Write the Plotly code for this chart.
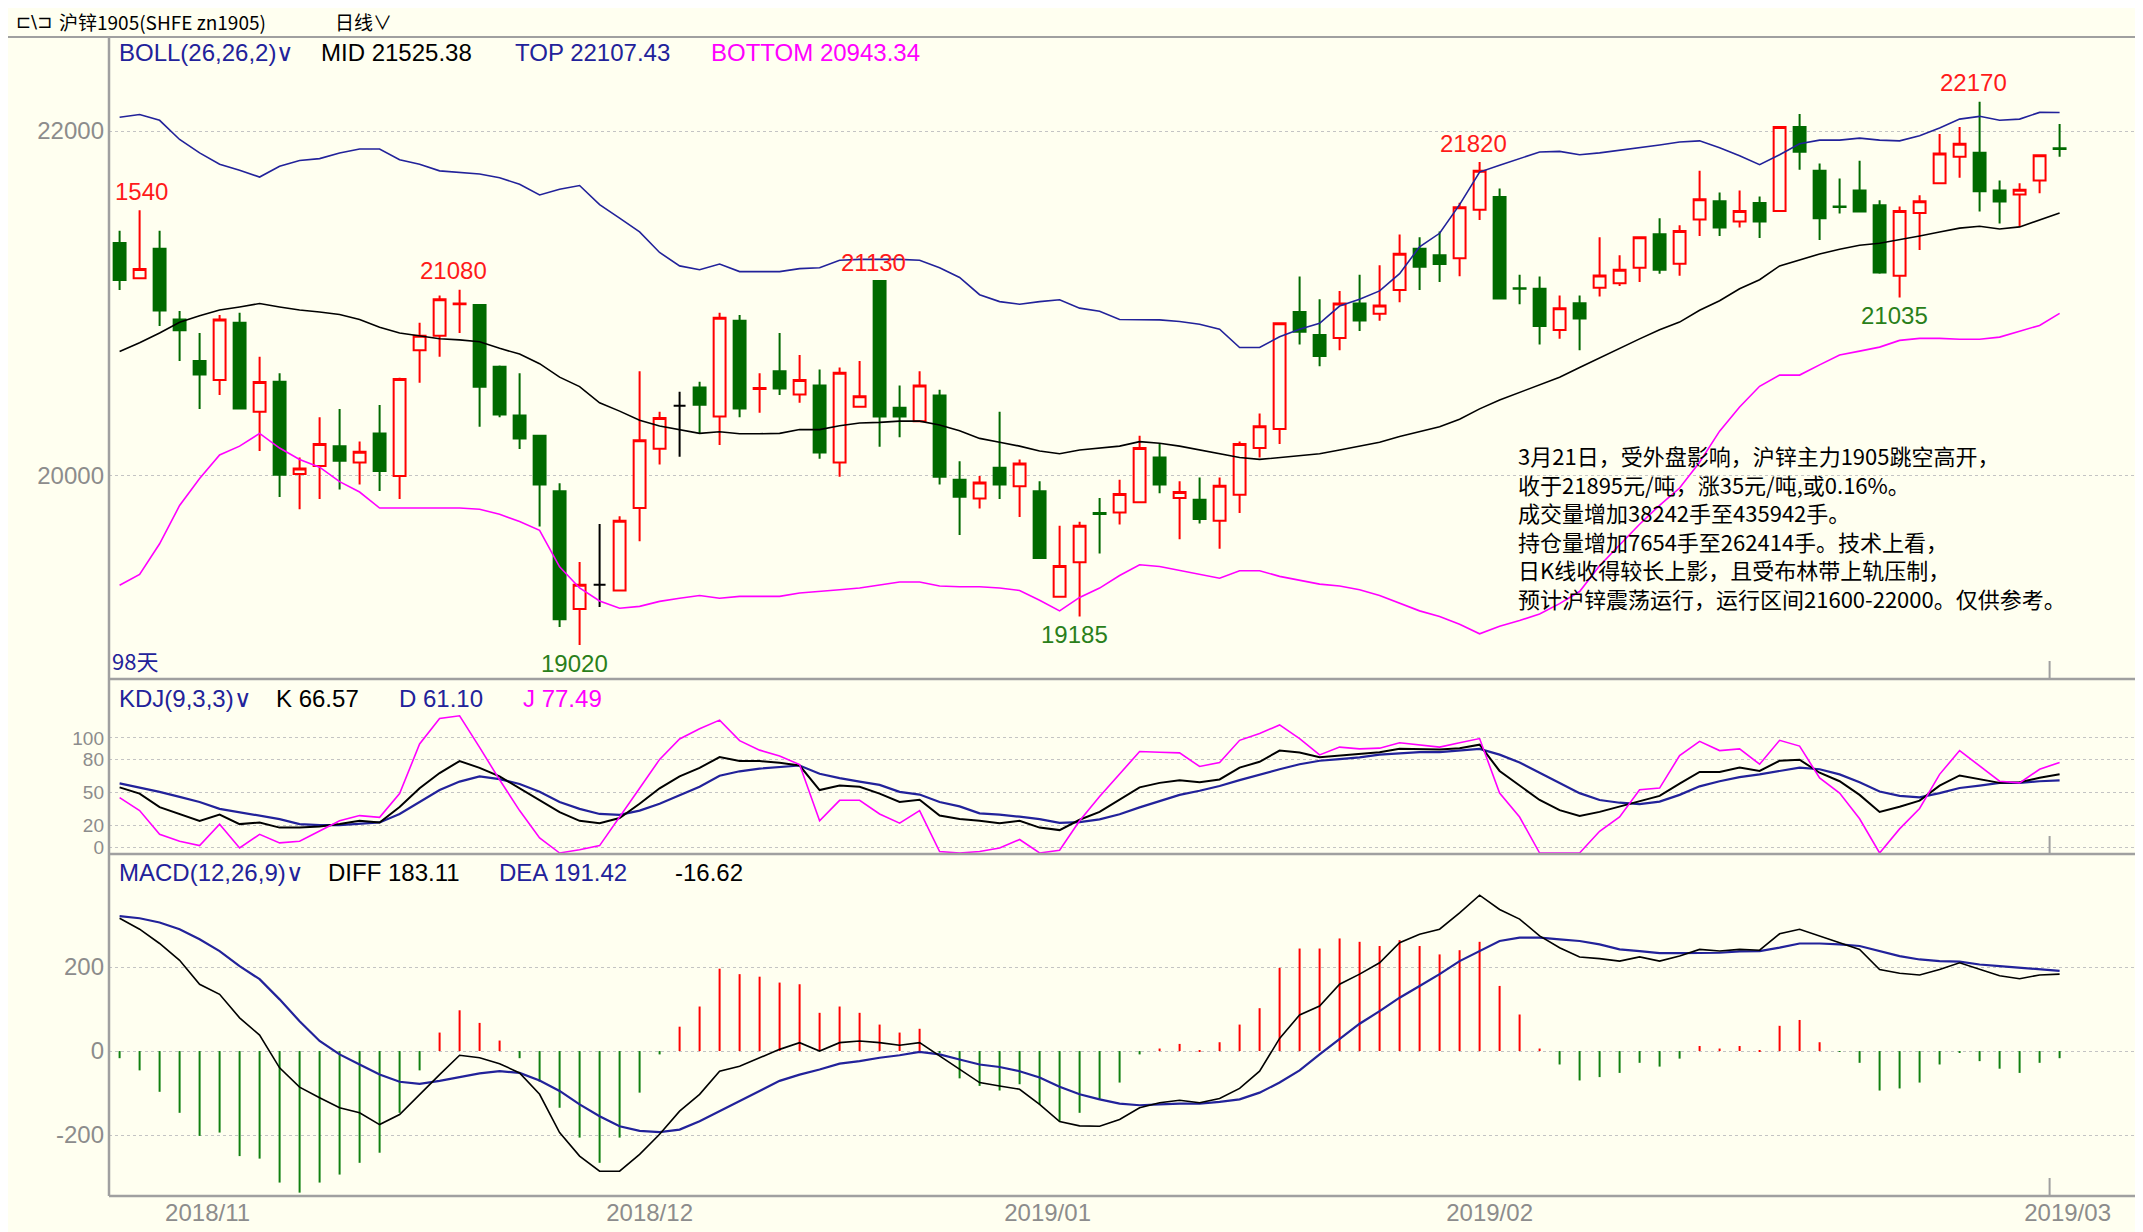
import plotly.graph_objects as go

# ---------------- data ----------------
idx = list(range(98))

opens = [21351, 21147, 21318, 20907, 20667, 20556, 20889, 20373, 20547, 20011,
         20058, 20173, 20078, 20247, 20000, 20729, 20813, 20995, 20991, 20633,
         20351, 20233, 19911, 19229, 19370, 19336, 19814, 20158, 20407, 20513,
         20345, 20900, 20505, 20607, 20473, 20524, 20078, 20402, 21130, 20396,
         20318, 20467, 19978, 19869, 20047, 19940, 19911, 19300, 19500, 19785,
         19789, 19847, 20107, 19873, 19862, 19740, 19891, 20162, 20273, 20951,
         20818, 20800, 21000, 20940, 21078, 21318, 21280, 21262, 21544, 21618,
         21089, 21085, 20847, 21002, 21091, 21118, 21207, 21402, 21230, 21487,
         21593, 21476, 21582, 21536, 22023, 21770, 21563, 21655, 21570, 21161,
         21524, 21697, 21851, 21874, 21655, 21632, 21713, 21900]
highs = [21422, 21540, 21422, 20956, 20829, 20933, 20947, 20691, 20596, 20107,
         20340, 20389, 20200, 20411, 20569, 20889, 21047, 21080, 20995, 20640,
         20596, 20233, 19958, 19502, 19722, 19767, 20607, 20373, 20489, 20547,
         20947, 20933, 20596, 20829, 20702, 20618, 20629, 20667, 21130, 20524,
         20607, 20500, 20085, 20000, 20373, 20096, 19969, 19711, 19734, 19873,
         19978, 20233, 20185, 19969, 19991, 19991, 20200, 20362, 20885, 21156,
         21024, 21073, 21167, 21222, 21400, 21384, 21418, 21584, 21820, 21667,
         21167, 21156, 21047, 21047, 21384, 21280, 21384, 21494, 21453, 21770,
         21644, 21655, 21621, 22023, 22099, 21811, 21724, 21828, 21598, 21563,
         21628, 21982, 22023, 22170, 21713, 21697, 21862, 22041]
lows = [21078, 21147, 20869, 20667, 20389, 20469, 20391, 20145, 19878, 19807,
        19867, 19922, 19951, 19913, 19867, 20540, 20691, 20829, 20285, 20340,
        20156, 19707, 19125, 19020, 19240, 19336, 19622, 20067, 20111, 20247,
        20180, 20340, 20367, 20469, 20424, 20100, 19996, 20402, 20169, 20224,
        20318, 19951, 19658, 19811, 19867, 19762, 19518, 19300, 19185, 19551,
        19718, 19847, 19900, 19633, 19725, 19578, 19785, 20107, 20185, 20762,
        20636, 20729, 20840, 20900, 21007, 21078, 21124, 21158, 21484, 21029,
        20996, 20762, 20796, 20729, 21040, 21102, 21124, 21172, 21161, 21391,
        21391, 21441, 21379, 21536, 21775, 21368, 21522, 21533, 21172, 21035,
        21310, 21697, 21729, 21533, 21464, 21448, 21639, 21851]
closes = [21136, 21200, 20960, 20845, 20589, 20907, 20391, 20545, 20007, 20044,
          20185, 20089, 20140, 20029, 20562, 20813, 21024, 21000, 20518, 20356,
          20218, 19951, 19169, 19369, 19370, 19740, 20207, 20336, 20407, 20413,
          20918, 20391, 20510, 20507, 20556, 20136, 20598, 20462, 20345, 20345,
          20524, 19996, 19880, 19962, 19951, 20073, 19525, 19478, 19711, 19780,
          19896, 20162, 19951, 19907, 19751, 19944, 20185, 20289, 20885, 20836,
          20696, 21000, 20902, 20989, 21289, 21213, 21229, 21558, 21769, 21029,
          21085, 20869, 20973, 20913, 21162, 21196, 21384, 21195, 21421, 21605,
          21441, 21536, 21476, 22023, 21880, 21494, 21560, 21533, 21179, 21536,
          21593, 21869, 21926, 21651, 21591, 21660, 21860, 21895]

boll_top = [22080, 22096, 22062, 21951, 21873, 21807, 21773, 21733, 21796, 21829,
            21840, 21873, 21896, 21896, 21833, 21807, 21769, 21762, 21751, 21729,
            21691, 21629, 21662, 21684, 21573, 21495, 21415, 21296, 21218, 21196,
            21229, 21185, 21185, 21185, 21202, 21207, 21251, 21256, 21256, 21256,
            21251, 21207, 21151, 21051, 21011, 20996, 21011, 21022, 20973, 20955,
            20907, 20907, 20905, 20896, 20880, 20851, 20745, 20745, 20807, 20851,
            20885, 20985, 21025, 21073, 21173, 21329, 21407, 21573, 21762, 21802,
            21840, 21878, 21882, 21862, 21873, 21887, 21905, 21919, 21936, 21943,
            21903, 21857, 21805, 21862, 21926, 21947, 21947, 21959, 21947, 21943,
            21972, 22018, 22069, 22085, 22062, 22069, 22108, 22107]
boll_mid = [20722, 20773, 20829, 20891, 20929, 20962, 20980, 21000, 20980, 20962,
            20951, 20936, 20907, 20862, 20829, 20811, 20796, 20789, 20778, 20740,
            20707, 20651, 20573, 20518, 20424, 20376, 20323, 20290, 20269, 20247,
            20256, 20245, 20245, 20247, 20269, 20269, 20291, 20307, 20311, 20318,
            20318, 20296, 20262, 20218, 20196, 20173, 20145, 20129, 20151, 20162,
            20173, 20199, 20190, 20173, 20151, 20129, 20107, 20096, 20107, 20118,
            20129, 20151, 20173, 20196, 20229, 20256, 20285, 20329, 20389, 20440,
            20485, 20529, 20573, 20629, 20685, 20740, 20795, 20848, 20892, 20961,
            21016, 21085, 21138, 21218, 21253, 21287, 21315, 21338, 21349, 21368,
            21391, 21414, 21437, 21448, 21432, 21444, 21483, 21525]
boll_bot = [19367, 19429, 19607, 19829, 19985, 20122, 20173, 20247, 20162, 20096,
            20051, 19967, 19907, 19814, 19814, 19814, 19814, 19814, 19807, 19778,
            19736, 19685, 19473, 19351, 19275, 19233, 19244, 19273, 19291, 19307,
            19291, 19302, 19302, 19302, 19322, 19329, 19340, 19351, 19369, 19385,
            19385, 19362, 19358, 19358, 19351, 19336, 19280, 19218, 19296, 19350,
            19423, 19485, 19475, 19451, 19429, 19407, 19451, 19451, 19418, 19396,
            19373, 19362, 19340, 19307, 19262, 19218, 19185, 19140, 19085, 19129,
            19162, 19200, 19260, 19330, 19480, 19600, 19720, 19830, 19930, 20080,
            20260, 20400, 20520, 20585, 20585, 20644, 20701, 20724, 20747, 20786,
            20798, 20798, 20793, 20793, 20805, 20839, 20873, 20943]

kdj_k = [54.7, 49, 36.6, 30.3, 24, 29.7, 21, 22.5, 17.8, 17.8,
         18.8, 21, 24, 22.5, 36.6, 53.8, 67.8, 78.8, 72.5, 64.7,
         53.8, 42.8, 31.9, 24, 21.9, 26.6, 39.7, 53.8, 64.7, 72.5,
         82.5, 78.8, 78.8, 77.2, 74.7, 52.2, 56.3, 55.3, 49, 41.3,
         43.4, 28.8, 25.6, 24, 21.9, 24, 17.8, 15.5, 25, 32.2,
         43.1, 54.7, 58.8, 61.3, 59.4, 61.9, 72.8, 78.1, 88.4, 86.6,
         82.2, 83.8, 85.3, 86.9, 90, 89.4, 89.4, 90.6, 93.8, 69.7,
         56.3, 43.1, 33.8, 28.4, 32.2, 36.9, 41.6, 46.9, 58.1, 68.8,
         68.8, 72.8, 69.7, 79.1, 80, 68.1, 60.3, 47.8, 32.2, 36.9,
         42.5, 56.3, 65.6, 62.5, 58.8, 59.4, 63.4, 66.6]
kdj_d = [58.4, 54.7, 50.6, 45.9, 41.3, 35, 31.9, 28.8, 25.6, 21,
         20, 20, 21, 22.5, 30.3, 41.3, 52.2, 60, 64.7, 62.2,
         57.8, 50.6, 41.3, 35, 30.3, 29.4, 33.4, 39.7, 47.5, 55.3,
         65.3, 69.4, 71.9, 73.4, 74.7, 67.2, 63.1, 60, 56.9, 50.6,
         48.1, 41.3, 37.2, 30.9, 29.7, 27.8, 25.6, 22.2, 22.8, 25.3,
         30, 36.3, 42.2, 47.8, 51.6, 55.9, 61.3, 66.6, 71.3, 75.9,
         79.1, 80.6, 82.2, 84.7, 85.9, 86.9, 86.9, 88.4, 90, 84.7,
         77.5, 68.1, 58.8, 49.4, 43.1, 40.6, 39.4, 41.6, 47.8, 55.6,
         60.3, 64.1, 66.6, 69.7, 72.8, 71.3, 66.6, 59.4, 50.9, 46.9,
         45.6, 49.4, 54.1, 56.3, 58.8, 58.8, 60.3, 61.1]
kdj_j = [45.3, 33.4, 11.6, 5.3, 1.3, 20.9, -0.9, 11.6, 3.8, 5.3,
         14.7, 24, 28.8, 27.2, 49, 94.4, 117.8, 120.3, 91.3, 61.6,
         33.4, 8.4, -5.5, -2.5, 1.3, 27.2, 53.8, 80.3, 99, 108.4,
         116.3, 97.5, 88.8, 83.4, 75.6, 24, 42.8, 42.8, 30.3, 21.9,
         33.4, -4.1, -5.5, -4.1, -0.9, 6.9, -5.5, -3, 24, 46.3,
         66.6, 87.5, 86.9, 86.3, 73.8, 77.5, 97.8, 104, 111.9, 99.4,
         84.4, 91.6, 90, 90.6, 95.6, 93.8, 91.6, 95.6, 99.4, 49.4,
         27.5, -5.5, -5.5, -5.5, 14.4, 27.5, 52.5, 54, 83.8, 96.9,
         88.4, 90, 75.9, 97.8, 92.5, 63.4, 49.4, 25.9, -5.5, 16.6,
         35.3, 66.6, 88.4, 74.4, 60.3, 58.8, 71.3, 77.5]

macd_diff = [316, 290, 256, 216, 159, 135, 79, 38, -40, -86,
             -111, -135, -147, -175, -151, -103, -56, -10, -16, -30,
             -52, -103, -194, -250, -286, -286, -246, -198, -143, -103,
             -48, -36, -16, 4, 20, 0, 20, 24, 20, 14,
             20, -12, -44, -75, -83, -91, -127, -168, -178, -179,
             -163, -135, -123, -117, -123, -113, -89, -48, 30, 86,
             107, 159, 183, 210, 258, 278, 290, 329, 371, 337,
             314, 274, 246, 224, 220, 214, 224, 214, 226, 242,
             238, 242, 240, 279, 290, 274, 258, 242, 194, 185,
             181, 194, 210, 194, 179, 172, 181, 183]
macd_dea = [321, 316, 306, 290, 266, 238, 202, 171, 123, 71,
            24, -8, -32, -56, -73, -78, -71, -62, -53, -48,
            -52, -70, -95, -127, -155, -179, -190, -193, -187, -167,
            -143, -119, -95, -71, -56, -44, -30, -24, -16, -10,
            -2, -8, -20, -32, -38, -48, -63, -85, -103, -115,
            -125, -129, -127, -125, -125, -121, -115, -99, -75, -46,
            -8, 28, 65, 95, 127, 155, 183, 214, 238, 262,
            270, 270, 266, 262, 254, 242, 238, 233, 233, 233,
            234, 237, 238, 246, 256, 256, 254, 250, 238, 226,
            218, 214, 213, 206, 202, 198, 194, 191]
macd_hist = [-17, -46, -97, -147, -202, -194, -250, -256, -313, -337,
             -313, -294, -266, -242, -147, -46, 44, 97, 67, 25,
             -17, -73, -135, -206, -266, -206, -99, -8, 58, 106,
             196, 183, 177, 163, 159, 91, 106, 91, 63, 44,
             53, -3, -65, -83, -94, -79, -127, -167, -147, -115,
             -75, -8, 6, 17, 2, 21, 63, 102, 198, 244,
             244, 268, 260, 250, 264, 250, 230, 240, 260, 155,
             87, 6, -32, -70, -62, -52, -28, -37, -18, 12,
             6, 12, 2, 60, 74, 21, -2, -28, -94, -89,
             -75, -32, -4, -24, -42, -52, -28, -17]

# axis tick labels
main_ticks = [20000, 22000]
main_ticktext = ['20000', '22000']
kdj_ticks = [0, 20, 50, 80, 100]
kdj_ticktext = ['0', '20', '50', '80', '100']
macd_ticks = [-200, 0, 200]
macd_ticktext = ['-200', '0', '200']

# x-axis date labels and their positions (in bar units)
date_labels = ['2018/11', '2018/12', '2019/01', '2019/02', '2019/03']
date_pos = [4.4, 26.5, 46.4, 68.5, 97.4]
month_tick = [96.5]

# peak / trough labels: (bar index, text)
peak_idx = [1, 17, 38, 68, 93]
peak_txt = ['1540', '21080', '21130', '21820', '22170']
trough_idx = [23, 48, 89]
trough_txt = ['19020', '19185', '21035']

boll_hdr = ['BOLL(26,26,2)∨', 'MID 21525.38', 'TOP 22107.43', 'BOTTOM 20943.34']
kdj_hdr = ['KDJ(9,3,3)∨', 'K 66.57', 'D 61.10', 'J 77.49']
macd_hdr = ['MACD(12,26,9)∨', 'DIFF 183.11', 'DEA 191.42', '-16.62']

note_lines = [
    '3月21日，受外盘影响，沪锌主力1905跳空高开，',
    '收于21895元/吨，涨35元/吨,或0.16%。',
    '成交量增加38242手至435942手。',
    '持仓量增加7654手至262414手。技术上看，',
    '日K线收得较长上影，且受布林带上轨压制，',
    '预计沪锌震荡运行，运行区间21600-22000。仅供参考。',
]

# ---------------- styling / layout ----------------
PAGE_OFF = 8                      # browser body margin
PAGE_W, PAGE_H = 2143, 1232
W, H = PAGE_W - PAGE_OFF, PAGE_H - PAGE_OFF
FRAME_L, FRAME_T, FRAME_B = 109, 37, 1196   # page coordinates
ML = FRAME_L - PAGE_OFF
MT = FRAME_T - PAGE_OFF
MB = PAGE_H - FRAME_B
MR = 0
PW, PH = PAGE_W - FRAME_L, FRAME_B - FRAME_T
BG = '#FFFFF0'
NAVY = '#22229A'
MAG = '#FF00FF'
RED = '#FF0000'
GRN = '#006A00'
GRAYL = '#A0A0A0'
TICKC = '#8C8C8C'
NUMF = 'Liberation Sans, Arial, sans-serif'
CJKF = 'Noto Sans CJK SC, sans-serif'


def px(x):
    return (x - FRAME_L) / PW


def py(y):
    return (FRAME_B - y) / PH


main_dom = [py(679), 1.0]
kdj_dom = [py(854), py(679)]
macd_dom = [0.0, py(854)]

fig = go.Figure()

# candles split by colour
groups = [
    (lambda o, c: c > o, RED, BG),
    (lambda o, c: c < o, GRN, GRN),
    (lambda o, c: c == o, '#000000', '#000000'),
]
for cond, col, fill in groups:
    sel = [i for i in idx if cond(opens[i], closes[i])]
    fig.add_trace(go.Candlestick(
        x=sel, open=[opens[i] for i in sel], high=[highs[i] for i in sel],
        low=[lows[i] for i in sel], close=[closes[i] for i in sel],
        increasing=dict(line=dict(color=col, width=2), fillcolor=fill),
        decreasing=dict(line=dict(color=col, width=2), fillcolor=fill),
        whiskerwidth=0, hoverinfo='skip', showlegend=False,
        xaxis='x', yaxis='y'))

fig.add_trace(go.Scatter(x=idx, y=boll_top, mode='lines', line=dict(color=NAVY, width=1.6),
                         xaxis='x', yaxis='y', hoverinfo='skip', showlegend=False))
fig.add_trace(go.Scatter(x=idx, y=boll_mid, mode='lines', line=dict(color='#000000', width=1.6),
                         xaxis='x', yaxis='y', hoverinfo='skip', showlegend=False))
fig.add_trace(go.Scatter(x=idx, y=boll_bot, mode='lines', line=dict(color=MAG, width=1.6),
                         xaxis='x', yaxis='y', hoverinfo='skip', showlegend=False))

# KDJ
fig.add_trace(go.Scatter(x=idx, y=kdj_d, mode='lines', line=dict(color=NAVY, width=2.2),
                         xaxis='x2', yaxis='y2', hoverinfo='skip', showlegend=False))
fig.add_trace(go.Scatter(x=idx, y=kdj_k, mode='lines', line=dict(color='#000000', width=2),
                         xaxis='x2', yaxis='y2', hoverinfo='skip', showlegend=False))
fig.add_trace(go.Scatter(x=idx, y=kdj_j, mode='lines', line=dict(color=MAG, width=1.6),
                         xaxis='x2', yaxis='y2', hoverinfo='skip', showlegend=False))

# MACD
fig.add_trace(go.Bar(x=idx, y=macd_hist, width=0.1,
                     marker=dict(color=[RED if v > 0 else '#108010' for v in macd_hist], line=dict(width=0)),
                     xaxis='x3', yaxis='y3', hoverinfo='skip', showlegend=False))
fig.add_trace(go.Scatter(x=idx, y=macd_dea, mode='lines', line=dict(color=NAVY, width=2.2),
                         xaxis='x3', yaxis='y3', hoverinfo='skip', showlegend=False))
fig.add_trace(go.Scatter(x=idx, y=macd_diff, mode='lines', line=dict(color='#000000', width=1.6),
                         xaxis='x3', yaxis='y3', hoverinfo='skip', showlegend=False))

xr = [-0.53, 101.17]


def grid(size=24):
    return dict(showgrid=True, gridcolor='#C4C4C4', griddash='dot', gridwidth=1,
                zeroline=False, showline=False, ticks='', ticklabelstandoff=4,
                tickfont=dict(family=NUMF, size=size, color=TICKC), fixedrange=True)


layout = dict(
    width=W, height=H, margin=dict(l=ML, r=MR, t=MT, b=MB),
    paper_bgcolor=BG, plot_bgcolor=BG, showlegend=False, boxgap=0.15,
    xaxis=dict(domain=[0, 1], anchor='y', range=xr, showgrid=False, zeroline=False,
               showticklabels=False, ticks='', rangeslider=dict(visible=False), showline=False),
    xaxis2=dict(domain=[0, 1], anchor='y2', matches='x', showgrid=False, zeroline=False,
                showticklabels=False, ticks='', showline=False),
    xaxis3=dict(domain=[0, 1], anchor='y3', matches='x', showgrid=False, zeroline=False,
                tickvals=date_pos, ticktext=date_labels, ticks='', showline=False,
                tickfont=dict(family=NUMF, size=24, color=TICKC)),
    yaxis=dict(domain=main_dom, range=[18823, 22545], tickvals=main_ticks,
               ticktext=main_ticktext, **grid(24)),
    yaxis2=dict(domain=kdj_dom, range=[-6.4, 154], tickvals=kdj_ticks,
                ticktext=kdj_ticktext, **grid(19)),
    yaxis3=dict(domain=macd_dom, range=[-345, 469], tickvals=macd_ticks,
                ticktext=macd_ticktext, **grid(24)),
)
fig.update_layout(**layout)

# frame and separators
shapes = []
shapes.append(dict(type='line', xref='paper', yref='paper', x0=px(PAGE_OFF), x1=1, y0=1, y1=1,
                   line=dict(color=GRAYL, width=2)))
for yy in [main_dom[0], kdj_dom[0], 0]:
    shapes.append(dict(type='line', xref='paper', yref='paper', x0=0, x1=1, y0=yy, y1=yy,
                       line=dict(color=GRAYL, width=2.5)))
shapes.append(dict(type='line', xref='paper', yref='paper', x0=0, x1=0, y0=0, y1=1,
                   line=dict(color=GRAYL, width=2.5)))
for mt in month_tick:
    for yy in [main_dom[0], kdj_dom[0], 0]:
        shapes.append(dict(type='line', xref='x', yref='paper', x0=mt, x1=mt,
                           y0=yy, y1=yy + 18 / PH, line=dict(color=GRAYL, width=2)))
fig.update_layout(shapes=shapes)

ann = []


def txt(x, y, s, color='#000000', size=24, font=NUMF, anchor='left', align='left'):
    ann.append(dict(xref='paper', yref='paper', x=px(x), y=py(y), text=s, showarrow=False,
                    xanchor=anchor, yanchor='middle', align=align,
                    font=dict(family=font, size=size, color=color)))


# title bar
txt(14, 21, '⊏\\⊐', '#000000', 18, 'DejaVu Sans')
txt(57, 21, '沪锌1905(SHFE zn1905)', '#000000', 19, CJKF)
txt(333, 21, '日线∨', '#000000', 19, CJKF)

# headers
for s, x, c in zip(boll_hdr, [117, 319, 513, 709], [NAVY, '#000000', NAVY, MAG]):
    txt(x, 53, s, c)
for s, x, c in zip(kdj_hdr, [117, 274, 397, 521], [NAVY, '#000000', NAVY, MAG]):
    txt(x, 698, s, c)
for s, x, c in zip(macd_hdr, [117, 326, 497, 673], [NAVY, '#000000', NAVY, '#000000']):
    txt(x, 872, s, c)
txt(110, 660, '98天', NAVY, 22, CJKF)

# commentary (one multi-line text block)
txt(1516, 526, '<br>'.join(note_lines), '#000000', 22, CJKF)

# peak / trough labels
for i, s in zip(peak_idx, peak_txt):
    ann.append(dict(xref='x', yref='y', x=i, y=highs[i], text=s, showarrow=False,
                    xanchor='center', yanchor='middle', yshift=19, xshift=(2 if len(s) == 4 else -6),
                    font=dict(family=NUMF, size=24, color='#FF1A1A')))
for i, s in zip(trough_idx, trough_txt):
    ann.append(dict(xref='x', yref='y', x=i, y=lows[i], text=s, showarrow=False,
                    xanchor='center', yanchor='middle', yshift=-18, xshift=-5,
                    font=dict(family=NUMF, size=24, color='#2A7F1A')))

fig.update_layout(annotations=ann)

fig.write_html('out.html')
